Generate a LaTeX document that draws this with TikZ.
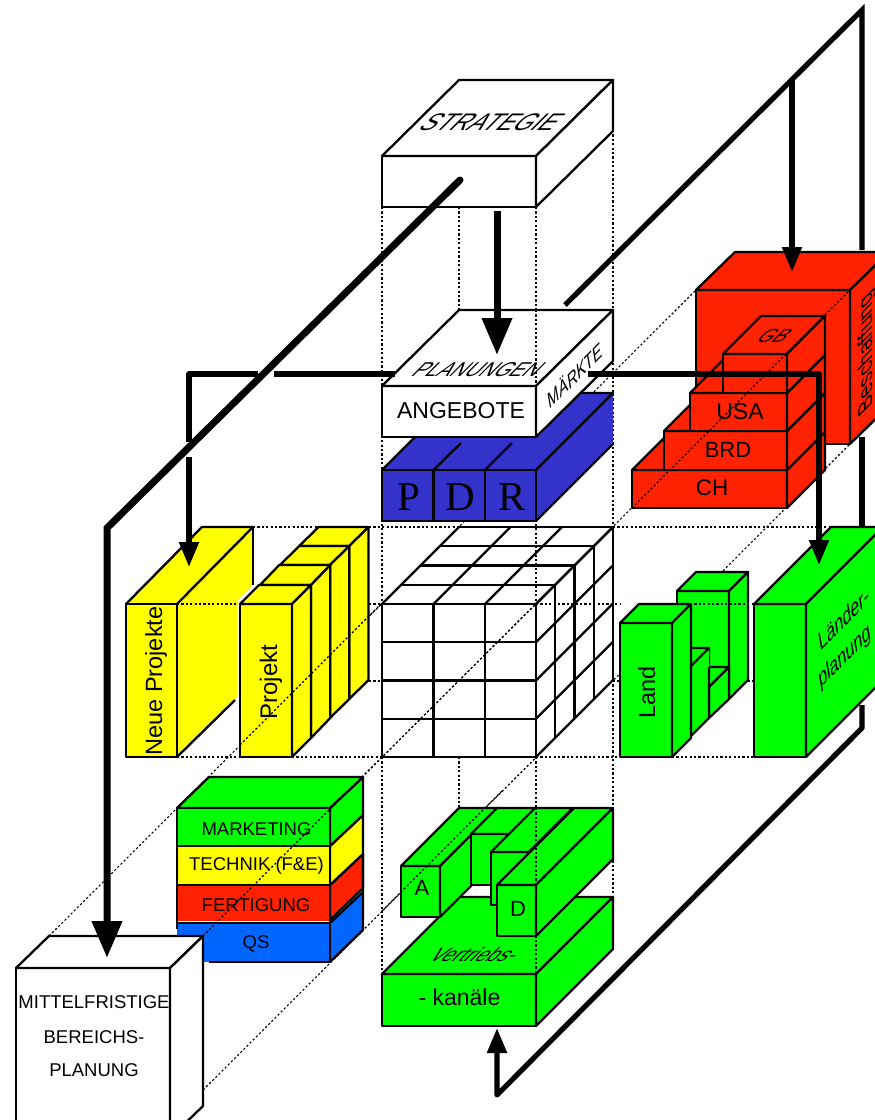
\documentclass[tikz,border=0pt]{standalone}
\usepackage{fontspec}
\setmainfont{Liberation Sans}
\newfontfamily\serifbig{Liberation Serif}
\usetikzlibrary{arrows.meta}
\definecolor{cred}{RGB}{255,34,0}
\definecolor{cgreen}{RGB}{0,255,0}
\definecolor{cyellow}{RGB}{255,255,0}
\definecolor{cblue}{RGB}{51,51,204}
\definecolor{cqs}{RGB}{0,102,255}
\tikzset{
  edge/.style={draw=black,line width=2.3pt,line join=round},
  dotl/.style={draw=black,line width=1.1pt,dash pattern=on 2.2pt off 2.2pt},
  lbl/.style={inner sep=0pt,outer sep=0pt,text=black},
  flow/.style={draw=black,line width=5.2pt,line join=miter},
  main/.style={draw=black,line width=7pt,line join=miter},
  bighead/.style={-{Triangle[width=29pt,length=37pt]}},
  smallhead/.style={-{Triangle[width=19pt,length=25pt]}},
  sidetext/.style={lbl,cm={0.707,0.707,-0.2,1.15,(0,0)}},
  toptext/.style={lbl,xslant=1},
}
\newcommand{\tsize}[1]{\fontsize{#1}{#1}\selectfont}
% x, y, width, height, dx, dy, colour
\newcommand{\mybox}[7]{%
  \filldraw[edge,fill=#7] (#1,#2) rectangle ++(#3,#4);
  \filldraw[edge,fill=#7] (#1,#2) -- ++(#5,-#6) -- ++(#3,0) -- ++(-#5,#6) -- cycle;
  \filldraw[edge,fill=#7] (#1+#3,#2) -- ++(#5,-#6) -- ++(0,#4) -- ++(-#5,#6) -- cycle;
}
\begin{document}
\begin{tikzpicture}[x=1pt,y=-1pt]
\useasboundingbox (0,0) rectangle (875,1120);
\clip (0,0) rectangle (875,1120);
% ---- dotted construction lines at the back
\draw[dotl] (49,936) -- (696,290);
\draw[dotl] (203,936) -- (850,290);
\draw[dotl] (203,1090) -- (850,444);
\draw[dotl] (382,207) -- (382,974);
\draw[dotl] (459,207) -- (459,310);
\draw[dotl] (459,757) -- (459,808);
\draw[dotl] (536,207) -- (536,974);
\draw[dotl] (613,130) -- (613,897);
\draw[dotl] (253,527) -- (318,527);
\draw[dotl] (369,527) -- (459,527);
\draw[dotl] (613,527) -- (831,527);
\draw[dotl] (369,604) -- (382,604);
\draw[dotl] (369,681) -- (382,681);
\draw[dotl] (613,681) -- (620,681);
\draw[dotl] (748,681) -- (755,681);
\draw[dotl] (292,757) -- (382,757);
\draw[dotl] (536,757) -- (620,757);
\draw[dotl] (672,757) -- (755,757);
\draw[dotl] (536,604) -- (620,604);
% ---- Beschaffung block and country stack
\mybox{696}{290}{154}{154}{39}{38}{cred}
\node[lbl,cm={0,1,-0.95,-0.95,(0,0)}] (besch) at (867,352) {\tsize{21}Beschaffung};
\mybox{632}{470}{155}{38}{38}{38}{cred}
\mybox{664}{431}{123}{39}{38}{38}{cred}
\mybox{690}{393}{97}{38}{38}{38}{cred}
\mybox{723}{354}{64}{39}{38}{38}{cred}
\node[toptext] (gb) at (775,336) {\tsize{19}GB};
\node[lbl] (usa) at (740,412) {\tsize{23}USA};
\node[lbl] (brd) at (728,450) {\tsize{22}BRD};
\node[lbl] (ch) at (712,488) {\tsize{22.5}CH};
\draw[dotl] (632,508) -- (850,290);
% ---- Strategie
\mybox{382}{156}{154}{51}{77}{76}{white}
\node[toptext] (strategie) at (492,122) {\tsize{24}STRATEGIE};
% ---- P D R
\fill[cblue] (382,470) -- (459,393) -- (613,393) -- (613,444) -- (536,521) -- (382,521) -- cycle;
\draw[edge] (382,470) rectangle (536,521);
\draw[edge] (433.5,470) -- (433.5,521);
\draw[edge] (485,470) -- (485,521);
\draw[edge] (382,470) -- (459,393) -- (613,393) -- (536,470);
\draw[edge] (613,444) -- (536,521);
\draw[edge] (433.5,470) -- (461,443);
\draw[edge] (485,470) -- (512,443);
\node[lbl] (p) at (409,497) {\serifbig\tsize{41}P};
\node[lbl] (d) at (460,497) {\serifbig\tsize{41}D};
\node[lbl] (r) at (512,497) {\serifbig\tsize{41}R};
% ---- Planungen
\mybox{382}{386}{154}{51}{77}{76}{white}
\draw[dotl] (536,310) -- (536,386);
\node[toptext] (planungen) at (479,370) {\tsize{20}PLANUNGEN};
\node[lbl] (angebote) at (461,411) {\tsize{23}ANGEBOTE};
\node[sidetext] (maerkte) at (575,374) {\tsize{18}MÄRKTE};
% ---- Neue Projekte
\fill[cyellow] (126,604) -- (202,527) -- (253,527) -- (253,585) -- (238,600) -- (238,696) -- (177,757) -- (126,757) -- cycle;
\draw[edge] (126,604) rectangle (177,757);
\draw[edge] (126,604) -- (202,527) -- (253,527) -- (177,604);
\draw[edge] (253,527) -- (253,585);
\draw[edge] (177,757) -- (235,700);
\node[lbl,rotate=90,anchor=base] (neue) at (162,681) {\tsize{23.5}Neue Projekte};
% ---- Projekt
\mybox{299.25}{546}{50}{153}{19.25}{19}{cyellow}
\mybox{280}{565}{50}{153}{19.25}{19}{cyellow}
\mybox{260}{585}{51}{153}{19.25}{20}{cyellow}
\mybox{240}{604}{52}{153}{19}{19}{cyellow}
\node[lbl,rotate=90,anchor=base] (projekt) at (277,682) {\tsize{24}Projekt};
\draw[dotl] (240,745) -- (382,603);
\draw[dotl] (177,604) -- (240,604);
\draw[dotl] (177,757) -- (240,757);
% ---- central cube
\foreach \xa in {382,433.5,485,536} { \draw[edge] (\xa,604) -- (\xa,757); \draw[edge] (\xa,604) -- ++(77,-77); }
\foreach \ya in {604,642.25,680.5,718.75,757} { \draw[edge] (382,\ya) -- (536,\ya); \draw[edge] (536,\ya) -- ++(77,-77); }
\foreach \da in {19.25,38.5,57.75,77} {
  \draw[edge] (382+\da,604-\da) -- ++(154,0);
  \draw[edge] (536+\da,604-\da) -- ++(0,153);
}
% ---- Land
\mybox{677}{591}{52}{108}{19}{19}{cgreen}
\filldraw[edge,fill=cgreen] (690,667) -- (729,667) -- (709,687) -- (690,687) -- cycle;
\filldraw[edge,fill=cgreen] (709,687) -- (729,667) -- (729,699) -- (709,718) -- cycle;
\filldraw[edge,fill=cgreen] (690,667) -- (709,648) -- (709,718) -- (690,737) -- cycle;
\fill[cgreen] (680,648) rectangle (709,667);
\draw[edge] (690,648) -- (709,648) -- (690,667);
\mybox{620}{623}{52}{134}{19}{19}{cgreen}
\node[lbl,rotate=90,anchor=base] (land) at (655,692.5) {\tsize{23.5}Land};
\draw[dotl] (690,604) -- (755,604);
% ---- Laenderplanung
\mybox{754}{604}{52}{153}{77}{77}{cgreen}
\node[sidetext] (laender) at (844,618) {\tsize{20.5}Länder-};
\node[sidetext] (planung) at (845,657) {\tsize{20.5}planung};
% ---- functions stack
\fill[cqs] (177,923) rectangle (330,962);
\fill[cqs] (330,923) -- (363,890) -- (363,930) -- (330,962) -- cycle;
\filldraw[edge,fill=cred] (330,885) -- (363,854) -- (363,888) -- (330,920) -- cycle;
\filldraw[edge,fill=cyellow] (330,846) -- (363,815) -- (363,854) -- (330,885) -- cycle;
\filldraw[edge,fill=cgreen] (330,808) -- (363,777) -- (363,815) -- (330,846) -- cycle;
\filldraw[edge,fill=cgreen] (177,808) -- (209,777) -- (363,777) -- (330,808) -- cycle;
\filldraw[edge,fill=cgreen] (177,808) rectangle (330,846);
\filldraw[edge,fill=cyellow] (177,846) rectangle (330,885);
\fill[cred] (177,885) rectangle (330,921);
\draw[edge] (177,885) -- (177,929);
\draw[edge] (177,885) -- (330,885);
\draw[edge] (177,923) -- (330,923);
\draw[edge] (330,885) -- (330,962) -- (209,962);
\draw[edge] (330,923) -- (363,892);
\draw[edge] (363,854) -- (363,930) -- (330,962);
\node[lbl] (marketing) at (256.5,829) {\tsize{18.5}MARKETING};
\node[lbl] (technik) at (256.5,866) {\tsize{18.5}TECHNIK (F\&E)};
\node[lbl] (fertigung) at (256,905.5) {\tsize{18.5}FERTIGUNG};
\node[lbl] (qs) at (256,943.5) {\tsize{18.5}QS};
\draw[dotl] (203,936) -- (382,757) -- (536,604);
% ---- Mittelfristige
\mybox{16}{968}{154}{170}{33}{32}{white}
\node[lbl] (mf1) at (94,1002) {\tsize{18.5}MITTELFRISTIGE};
\node[lbl] (mf2) at (94,1037) {\tsize{18.5}BEREICHS-};
\node[lbl] (mf3) at (94,1070) {\tsize{18.5}PLANUNG};
% ---- Vertriebskanaele
\mybox{382}{974}{154}{52}{77}{77}{cgreen}
\mybox{401}{866}{39}{51}{58}{58}{cgreen}
\mybox{471}{834}{39}{51}{26}{26}{cgreen}
\mybox{491}{852}{38}{53}{44}{44}{cgreen}
\mybox{497}{885}{39}{51}{77}{77}{cgreen}
\node[lbl] (a) at (422,888) {\tsize{22}A};
\node[lbl] (dd) at (518,909) {\tsize{22}D};
\node[toptext] (vertriebs) at (476,955) {\tsize{19.5}Vertriebs-};
\node[lbl] (kanaele) at (459.5,997) {\tsize{23}- kanäle};
\draw[dotl] (382,911) -- (503,790);
\draw[dotl] (536,808) -- (536,974);
% ---- connector end points
\coordinate (stratend) at (460,180);
\coordinate (stratbend) at (107,528);
\coordinate (mfin) at (107,958);
\coordinate (stratdown) at (497,211);
\coordinate (planin) at (497,355);
\coordinate (planleft) at (395,374);
\coordinate (gapright) at (274,374);
\coordinate (gapleft) at (258,374);
\coordinate (bendleft) at (189,374);
\coordinate (gaptop) at (189,442);
\coordinate (gapbottom) at (189,457);
\coordinate (neuein) at (189,567);
\coordinate (planright) at (588,374);
\coordinate (bendright) at (819,374);
\coordinate (laenderin) at (819,565);
\coordinate (outera) at (565,305);
\coordinate (outerb) at (862,10);
\coordinate (outerc) at (862,250);
\coordinate (outerd) at (862,437);
\coordinate (outere) at (862,527);
\coordinate (outerf) at (862,705);
\coordinate (outerg) at (862,728);
\coordinate (outerh) at (497,1095);
\coordinate (vertin) at (497,1028);
\coordinate (branch) at (792,80);
\coordinate (beschin) at (792,272);
% ---- connectors
\draw[flow,line join=round] (planleft) -- (gapright);
\draw[flow,line join=round] (gapleft) -- (bendleft) -- (gaptop);
\draw[flow,smallhead] (gapbottom) -- (neuein);
\draw[flow,line join=round,smallhead] (planright) -- (bendright) -- (laenderin);
\draw[flow] (outera) -- (outerb) -- (outerc);
\draw[flow] (outerd) -- (outere);
\draw[flow,line join=round,smallhead] (outerf) -- (outerg) -- (outerh) -- (vertin);
\draw[flow,smallhead] (branch) -- (beschin);
\draw[main,bighead] (stratdown) -- (planin);
\draw[main,line cap=round,bighead] (stratend) -- (stratbend) -- (mfin);
\end{tikzpicture}
\end{document}
